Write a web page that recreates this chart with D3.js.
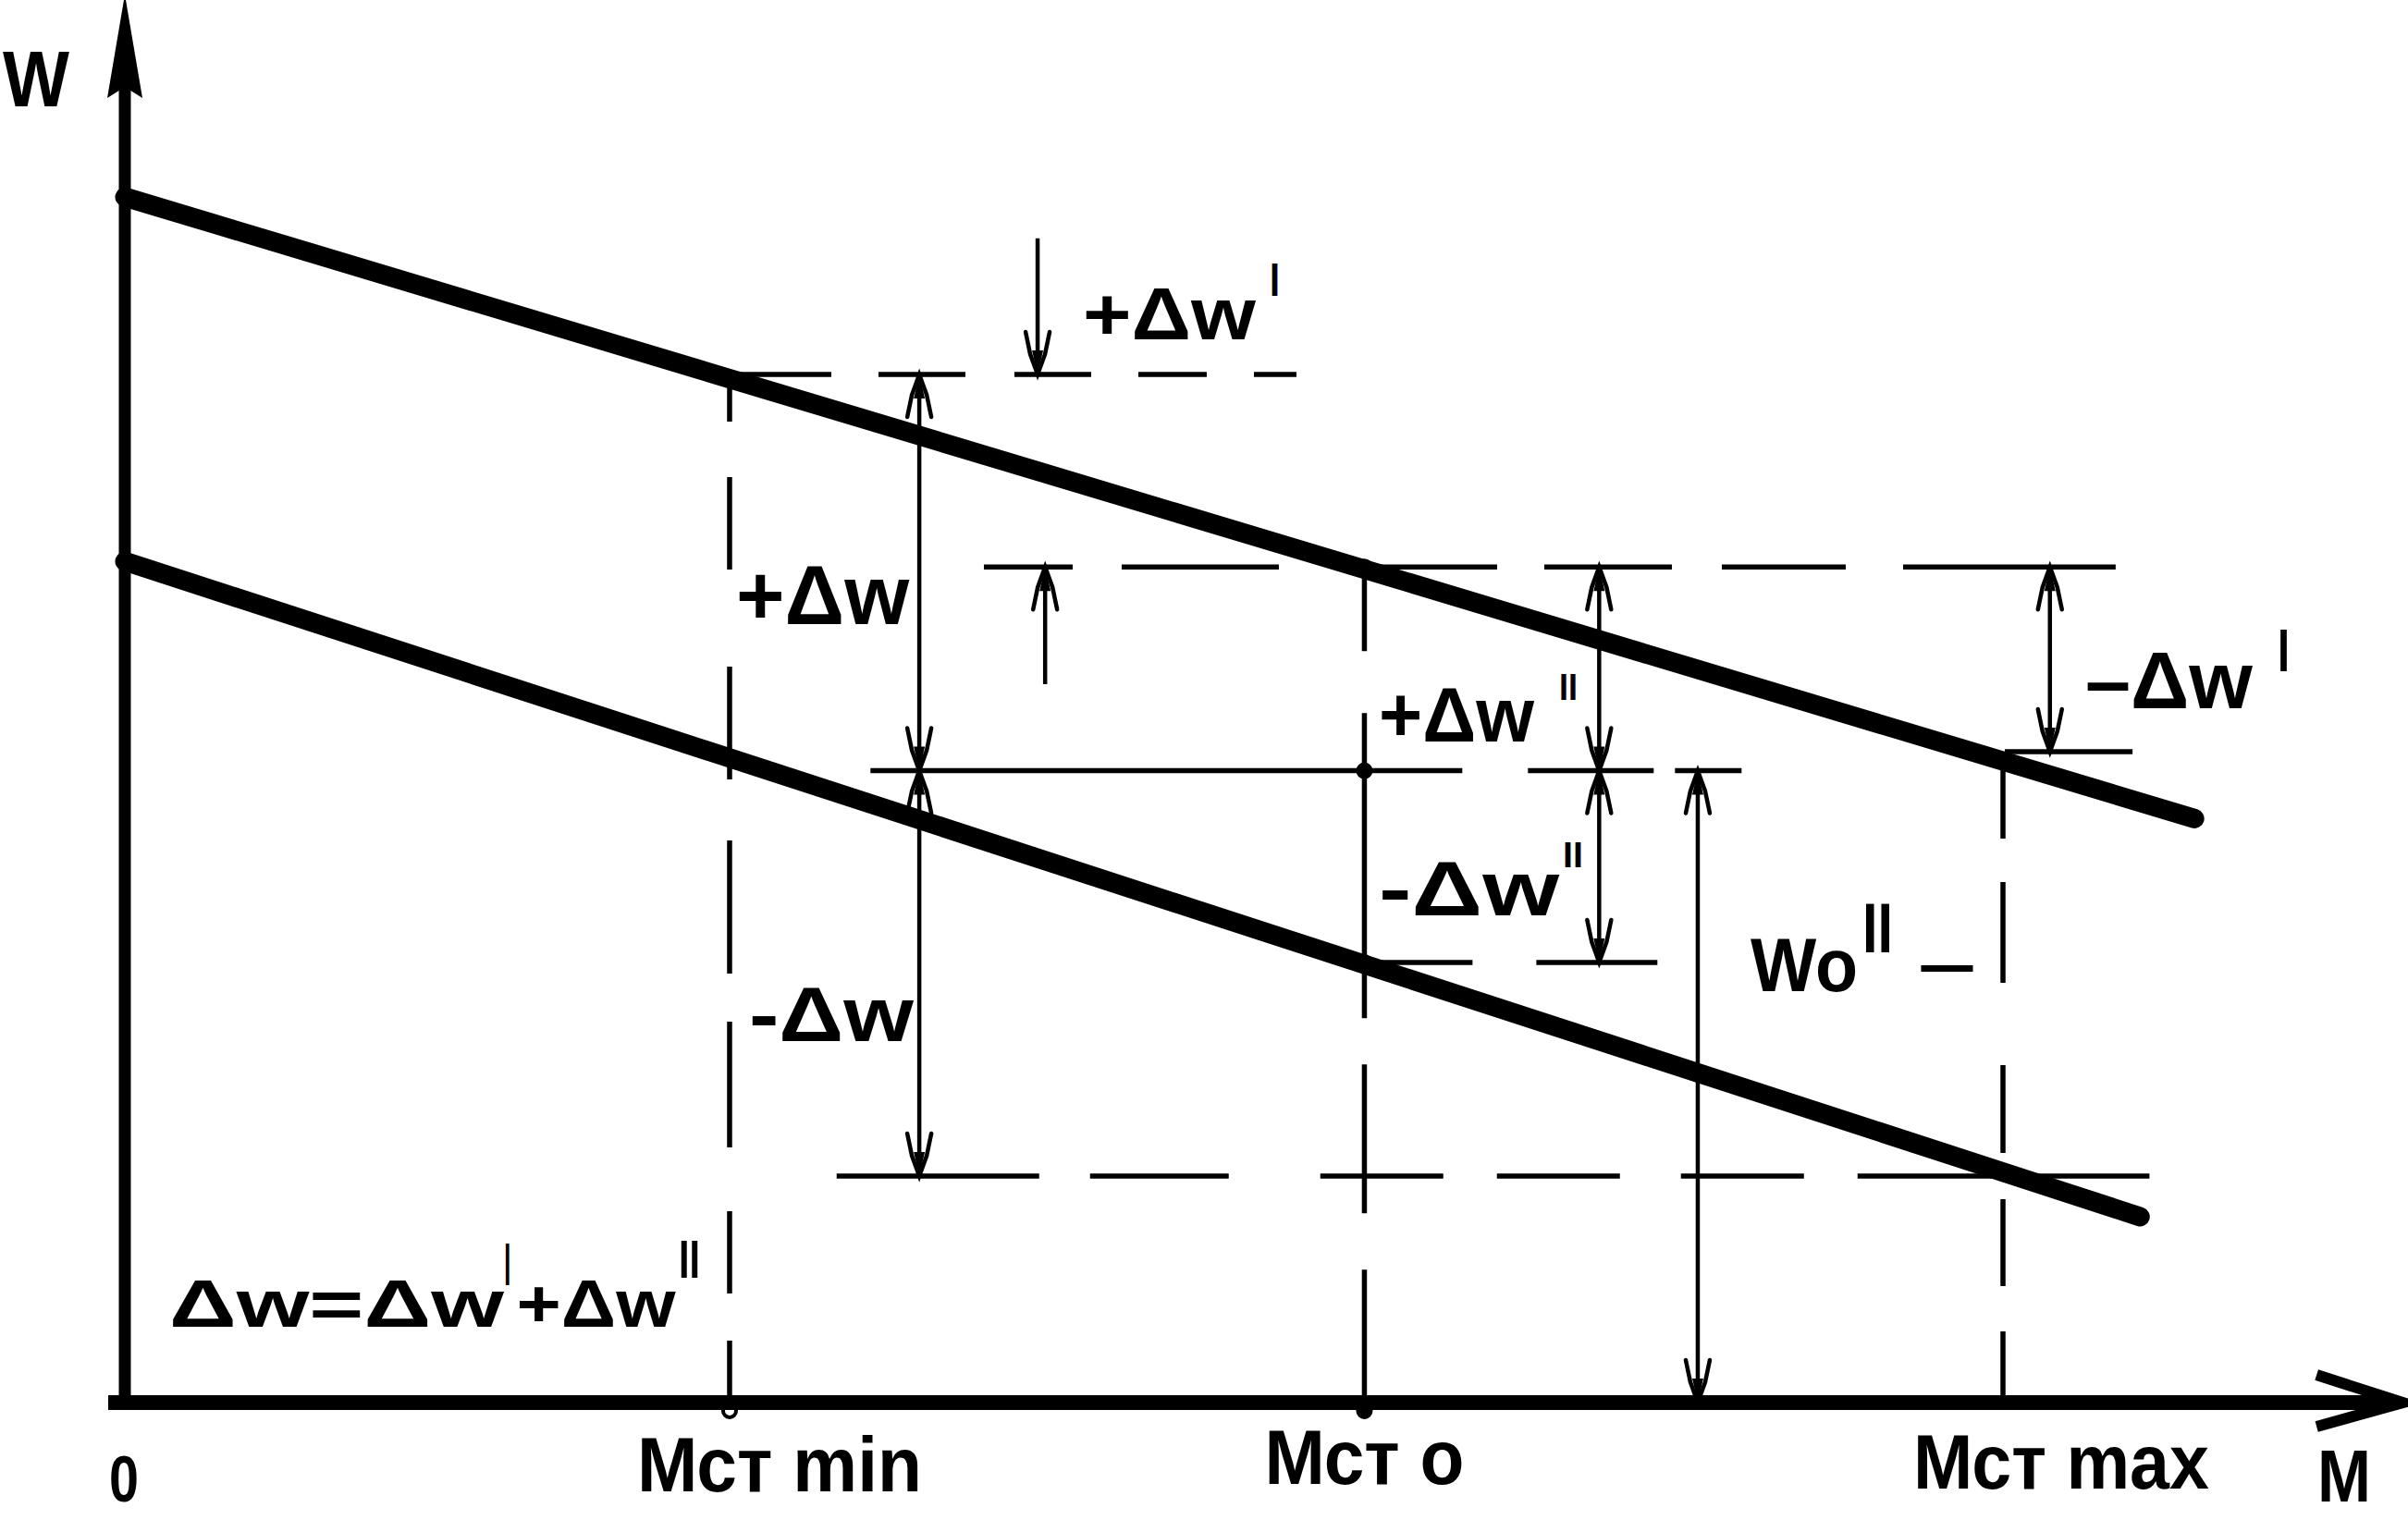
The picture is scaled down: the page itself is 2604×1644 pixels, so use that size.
<!DOCTYPE html>
<html>
<head>
<meta charset="utf-8">
<script src="https://cdn.jsdelivr.net/npm/d3@7"></script>
<style>
    body { margin: 0; background: #fff; overflow: hidden; }
    svg text {
        font-family: "Liberation Sans Narrow", "Liberation Sans", Arial, sans-serif;
        font-weight: bold;
        fill: #000;
    }
</style>
</head>
<body>
<div class="canvas"></div>
<script>
//Data: M = torque, W = speed (arbitrary units)
const torqueTicks = ['0', 'Мст min', 'Мст o', 'Мст max'];
const torqueValues = [0, 3.22, 6.60, 10.00];

const upperChar = [[0, 6.42], [11.02, 3.11]];
const lowerChar = [[0, 4.48], [10.73, 0.99]];

//speed levels: upper@Mmin, upper@Mo, upper@Mmax, wo'', lower@Mo, lower@Mmax
const speedLevels = [5.475, 4.45, 3.466, 3.365, 2.344, 1.206];

//horizontal reference lines: [level index, M from, M to]
const levelSpans = [
    [0, 3.22, 6.24],
    [1, 4.574, 10.60],
    [2, 10.01, 10.69],
    [3, 3.97, 8.61],
    [4, 6.58, 8.16],
    [5, 3.79, 10.78]
];

//dimension arrows: M, W from, W to, heads
const dimArrows = [
    { m: 4.86, from: 6.20, to: 5.475, head: 'to' },
    { m: 4.23, from: 5.475, to: 3.365, head: 'both' },
    { m: 4.23, from: 3.365, to: 1.206, head: 'both' },
    { m: 4.90, from: 3.826, to: 4.45, head: 'to' },
    { m: 7.85, from: 4.45, to: 3.365, head: 'both' },
    { m: 7.85, from: 3.365, to: 2.344, head: 'both' },
    { m: 8.375, from: 3.365, to: 0, head: 'both' },
    { m: 10.25, from: 4.45, to: 3.466, head: 'both' }
];

//Canvas
const
    width = 2604,
    height = 1644;

const svg = d3.select('.canvas')
    .append('svg')
    .attr('width', width)
    .attr('height', height)
    ;

const x = d3.scaleLinear()
    .domain([0, 10])
    .range([135, 2166])
    ;
const y = d3.scaleLinear()
    .domain([0, 10])
    .range([1517, 1517 - 2031])
    ;

//dash patterns (style only)
const levelDash = [
    '110,51,94,53,83,51,74,51,46',
    '96,53,170,57,179,51,138,54,134,62,230',
    null,
    '640,71,136,23,72',
    '121,69,132',
    '219,55,150,99,133,58,133,66,133,58,316'
];
const dropDash = [
    null,
    '51,60,100,105,122,66,144,52,136,69,89,51,67',
    '91,67,330,50,161,61,142',
    '94,47,109,89,95,50,94,49,77'
];

//Horizontal reference lines
svg.append('g')
    .selectAll('line')
    .data(levelSpans)
    .enter()
    .append('line')
    .attr('x1', d => x(d[1]))
    .attr('x2', d => x(d[2]))
    .attr('y1', d => y(speedLevels[d[0]]))
    .attr('y2', d => y(speedLevels[d[0]]))
    .attr('stroke', '#000')
    .attr('stroke-width', 5.5)
    .attr('stroke-dasharray', d => levelDash[d[0]])
    ;

//Vertical drops from operating points to the M axis
svg.append('g')
    .selectAll('line')
    .data(torqueValues.slice(1))
    .enter()
    .append('line')
    .attr('x1', d => x(d))
    .attr('x2', d => x(d))
    .attr('y1', (d, i) => y(speedLevels[i]))
    .attr('y2', y(0))
    .attr('stroke', '#000')
    .attr('stroke-width', 5.5)
    .attr('stroke-dasharray', (d, i) => dropDash[i + 1])
    ;

//Dimension arrows
const arrowHead = (xp, yp, dir) => {
    // dir -1: points up, +1: points down
    return `M${xp - 13},${yp - dir * 46} L${xp - 8},${yp - dir * 22} L${xp},${yp} L${xp + 8},${yp - dir * 22} L${xp + 13},${yp - dir * 46}`;
};
const arrowTip = (xp, yp, dir) => `M${xp},${yp} L${xp - 6},${yp - dir * 26} L${xp + 6},${yp - dir * 26} Z`;

const arrows = svg.append('g');
dimArrows.forEach(a => {
    const xp = x(a.m), y1 = y(a.from), y2 = y(a.to);
    const dirTo = y2 > y1 ? 1 : -1;
    arrows.append('line')
        .attr('x1', xp).attr('x2', xp)
        .attr('y1', y1).attr('y2', y2)
        .attr('stroke', '#000')
        .attr('stroke-width', 4.5)
        ;
    const ends = a.head === 'both' ? [[y2, dirTo], [y1, -dirTo]] : [[y2, dirTo]];
    ends.forEach(e => {
        arrows.append('path')
            .attr('d', arrowHead(xp, e[0], e[1]))
            .attr('fill', 'none')
            .attr('stroke', '#000')
            .attr('stroke-width', 4.5)
            .attr('stroke-linecap', 'round')
            ;
        arrows.append('path')
            .attr('d', arrowTip(xp, e[0], e[1]))
            .attr('fill', '#000')
            ;
    });
});

//Mechanical characteristics
const line = d3.line()
    .x(d => x(d[0]))
    .y(d => y(d[1]))
    ;
svg.selectAll('path.char')
    .data([upperChar, lowerChar])
    .enter()
    .append('path')
    .attr('class', 'char')
    .attr('d', line)
    .attr('fill', 'none')
    .attr('stroke', '#000')
    .attr('stroke-width', 21)
    .attr('stroke-linecap', 'round')
    ;

//Small marks on the M axis and on the Mo drop
svg.append('g')
    .selectAll('circle')
    .data([[torqueValues[1], 0], [torqueValues[2], 0], [torqueValues[2], speedLevels[1]], [torqueValues[2], speedLevels[3]], [torqueValues[2], speedLevels[4]]])
    .enter()
    .append('circle')
    .attr('cx', d => x(d[0]))
    .attr('cy', (d, i) => y(d[1]) + (i < 2 ? 9 : 0))
    .attr('r', 7)
    .attr('fill', (d, i) => i === 0 ? '#fff' : '#000')
    .attr('stroke', '#000')
    .attr('stroke-width', 4)
    ;

//Axes
const axes = svg.append('g');
axes.append('line')
    .attr('x1', x(0)).attr('x2', x(0))
    .attr('y1', y(0) + 7).attr('y2', 60)
    .attr('stroke', '#000')
    .attr('stroke-width', 13)
    ;
axes.append('path')
    .attr('d', `M${x(0)},-6 L${x(0) + 19},106 L${x(0)},94 L${x(0) - 19},106 Z`)
    .attr('fill', '#000')
    ;
axes.append('line')
    .attr('x1', x(0) - 18).attr('x2', x(12.1))
    .attr('y1', y(0)).attr('y2', y(0))
    .attr('stroke', '#000')
    .attr('stroke-width', 16)
    ;
axes.append('path')
    .attr('d', `M${x(11.67)},${y(0) - 30} L${x(12.13)},${y(0)} L${x(11.67)},${y(0) + 26}`)
    .attr('fill', 'none')
    .attr('stroke', '#000')
    .attr('stroke-width', 12)
    ;

//Tick labels on the M axis
const tickLayout = [
    { dx: -17, base: 1624, size: 70, len: 32 },
    { dx: -100, base: 1613, size: 84, len: 308 },
    { dx: -108, base: 1605, size: 84, len: 216 },
    { dx: -97, base: 1610, size: 84, len: 320 }
];
svg.append('g')
    .selectAll('text')
    .data(torqueTicks)
    .enter()
    .append('text')
    .attr('x', (d, i) => x(torqueValues[i]) + tickLayout[i].dx)
    .attr('y', (d, i) => tickLayout[i].base)
    .attr('font-size', (d, i) => tickLayout[i].size)
    .attr('textLength', (d, i) => tickLayout[i].len)
    .attr('lengthAdjust', 'spacingAndGlyphs')
    .text(d => d)
    ;

//Annotations: text, M, W (baseline), font size, width
const notes = [
    ['W', -0.65, 6.903, 86, 72],
    ['M', 11.674, -0.527, 80, 58],
    ['+Δw', 5.101, 5.662, 80, 187],
    ['I', 6.096, 5.894, 50, 11],
    ['+Δw', 3.255, 4.146, 90, 187],
    ['-Δw', 3.323, 1.925, 84, 178],
    ['+Δw', 6.677, 3.520, 84, 168],
    ['II', 7.637, 3.742, 40, 20],
    ['-Δw', 6.677, 2.595, 84, 195],
    ['II', 7.656, 2.851, 38, 22],
    ['–Δw', 10.438, 3.698, 88, 181],
    ['I', 11.462, 3.895, 64, 13],
    ['Wo', 8.656, 2.191, 81, 116],
    ['II', 9.252, 2.398, 76, 33],
    ['–', 9.547, 2.221, 70, 63],
    ['Δw=Δw', 0.236, 0.404, 72, 362],
    ['I', 2.02, 0.625, 64, 7],
    ['+Δw', 2.085, 0.404, 72, 172],
    ['II', 2.949, 0.665, 58, 23]
];
svg.append('g')
    .selectAll('text')
    .data(notes)
    .enter()
    .append('text')
    .attr('x', d => x(d[1]))
    .attr('y', d => y(d[2]))
    .attr('font-size', d => d[3])
    .attr('textLength', d => d[4])
    .attr('lengthAdjust', 'spacingAndGlyphs')
    .text(d => d[0])
    ;
</script>
</body>
</html>
